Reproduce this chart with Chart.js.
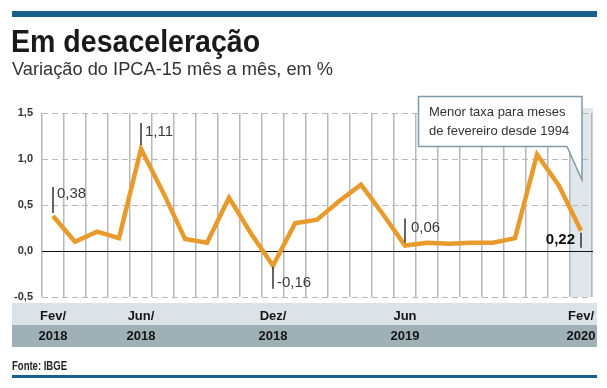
<!DOCTYPE html>
<html lang="pt-BR">
<head>
<meta charset="utf-8">
<title>Em desaceleração</title>
<script src="https://cdn.jsdelivr.net/npm/chart.js@4.4.1/dist/chart.umd.min.js"></script>
<style>
  html, body { margin: 0; padding: 0; background: #fff; }
  #wrap { position: relative; width: 607px; height: 388px; overflow: hidden; }
  #chart { position: absolute; left: 0; top: 0; }
  .rule { position: absolute; left: 12px; width: 585px; background: #17608a; }
  .fit { transform-origin: 0 0; display: inline-block; }
  #title {
    position: absolute; left: 11px; top: 25px; margin: 0;
    font: bold 32px/32px "Liberation Sans", Arial, sans-serif;
    color: #1a1a1a; white-space: nowrap;
  }
  #subtitle {
    position: absolute; left: 12px; top: 59px; margin: 0;
    font: 19px/19px "Liberation Sans", Arial, sans-serif;
    color: #333; white-space: nowrap;
  }
  #source {
    position: absolute; left: 12px; top: 360px; margin: 0;
    font: bold 12px/12px "Liberation Sans", Arial, sans-serif;
    color: #222; white-space: nowrap;
  }
</style>
</head>
<body>
<div id="wrap">
  <canvas id="chart" width="607" height="388"></canvas>
  <div class="rule" style="top:11px;height:6px"></div>
  <h1 id="title" class="fit" data-w="249">Em desaceleração</h1>
  <p id="subtitle" class="fit" data-w="321">Variação do IPCA-15 mês a mês, em %</p>
  <p id="source" class="fit" data-w="55">Fonte: IBGE</p>
  <div class="rule" style="top:375px;height:3px"></div>
</div>
<script>
/* ========== DATA ========== */
const months = [
  "Fev/2018", "Mar/2018", "Abr/2018", "Mai/2018", "Jun/2018", "Jul/2018",
  "Ago/2018", "Set/2018", "Out/2018", "Nov/2018", "Dez/2018", "Jan/2019",
  "Fev/2019", "Mar/2019", "Abr/2019", "Mai/2019", "Jun/2019", "Jul/2019",
  "Ago/2019", "Set/2019", "Out/2019", "Nov/2019", "Dez/2019", "Jan/2020",
  "Fev/2020",
];
const ipca15 = [
  0.38, 0.10, 0.21, 0.14, 1.11, 0.64, 0.13, 0.09, 0.58, 0.19, -0.16, 0.30,
  0.34, 0.54, 0.72, 0.40, 0.06, 0.09, 0.08, 0.09, 0.09, 0.14, 1.05, 0.71,
  0.22,
];
// which months get an axis label, and what it says
const axisMarks = [0, 4, 10, 16, 24];
const axisLabels = [["Fev/", "2018"], ["Jun/", "2018"], ["Dez/", "2018"], ["Jun", "2019"], ["Fev/", "2020"]];
const yTicks = [-0.5, 0, 0.5, 1.0, 1.5];
const calloutText = ["Menor taxa para meses", "de fevereiro desde 1994"];

/* ========== STYLE ========== */
const SANS = '"Liberation Sans", Arial, sans-serif';
const ORANGE = "#e99a2c";

// value labels with a small marker line (offsets relative to the point)
const notes = [
  { i: 0,  y0: -3, y1: -29, side: "right", dx: 4, ly: -22 },
  { i: 4,  y0: -4, y1: -26, side: "right", dx: 4, ly: -17 },
  { i: 10, y0: 1,  y1: 23,  side: "right", dx: 4, ly: 17 },
  { i: 16, y0: -3, y1: -27, side: "right", dx: 6, ly: -18 },
  { i: 24, y0: 2,  y1: 17,  side: "left",  dx: 6, ly: 9, bold: true },
];

const fmt = (v) => v.toFixed(2).replace(".", ",");

/* ========== HEADER TEXT WIDTHS ========== */
// the original uses condensed faces; squeeze the available ones to the same width
document.querySelectorAll(".fit").forEach((el) => {
  const w = el.getBoundingClientRect().width;
  const target = parseFloat(el.dataset.w);
  if (w > 0) el.style.transform = "scaleX(" + (target / w).toFixed(3) + ")";
});

/* ========== DECOR PLUGIN ========== */
const decor = {
  id: "decor",
  beforeDraw(chart) {
    const { ctx, chartArea: a, scales: { x } } = chart;
    const half = (x.getPixelForValue(1) - x.getPixelForValue(0)) / 2;
    const lx = x.getPixelForValue(months.length - 1);
    ctx.save();
    // last month highlight
    ctx.fillStyle = "#dfe7ec";
    ctx.fillRect(lx - half, a.top - 5, half * 2 + 1, a.bottom - a.top + 5);
    // axis bands
    ctx.fillStyle = "#dbe3e9";
    ctx.fillRect(12, 303, 585, 22);
    ctx.fillStyle = "#9fb0b7";
    ctx.fillRect(12, 325, 585, 22);
    ctx.restore();
  },
  beforeDatasetsDraw(chart) {
    const { ctx, chartArea: a, scales: { y } } = chart;
    const y0 = Math.round(y.getPixelForValue(0)) + 0.5;
    ctx.save();
    ctx.strokeStyle = "#111";
    ctx.lineWidth = 1;
    ctx.beginPath();
    ctx.moveTo(a.left, y0);
    ctx.lineTo(a.right + 1, y0);
    ctx.stroke();
    ctx.restore();
  },
  afterDatasetsDraw(chart) {
    const { ctx, scales: { x, y } } = chart;
    ctx.save();
    notes.forEach((n) => {
      const px = x.getPixelForValue(n.i);
      const py = y.getPixelForValue(ipca15[n.i]);
      ctx.strokeStyle = "#333";
      ctx.lineWidth = 1.5;
      ctx.beginPath();
      ctx.moveTo(px, py + n.y0);
      ctx.lineTo(px, py + n.y1);
      ctx.stroke();
      ctx.fillStyle = n.bold ? "#111" : "#3a3a3a";
      ctx.font = (n.bold ? "bold " : "") + "15px " + SANS;
      ctx.textBaseline = "middle";
      ctx.textAlign = n.side === "right" ? "left" : "right";
      const tx = n.side === "right" ? px + n.dx : px - n.dx;
      ctx.fillText(fmt(ipca15[n.i]), tx, py + n.ly);
    });
    ctx.restore();
  },
  afterDraw(chart) {
    const { ctx, scales: { x } } = chart;
    const tipX = x.getPixelForValue(months.length - 1) + 1;
    ctx.save();
    ctx.beginPath();
    ctx.moveTo(418.5, 96.5);
    ctx.lineTo(tipX, 96.5);
    ctx.lineTo(tipX, 180);
    ctx.lineTo(tipX - 15, 146.5);
    ctx.lineTo(418.5, 146.5);
    ctx.closePath();
    ctx.fillStyle = "#fff";
    ctx.fill();
    ctx.strokeStyle = "#7f9ba7";
    ctx.lineWidth = 1.5;
    ctx.stroke();
    ctx.fillStyle = "#333";
    ctx.font = "13px " + SANS;
    ctx.textBaseline = "middle";
    ctx.textAlign = "left";
    ctx.fillText(calloutText[0], 429, 112);
    ctx.fillText(calloutText[1], 429, 131.5);
    ctx.restore();
  },
};

/* ========== CHART ========== */
new Chart(document.getElementById("chart"), {
  type: "line",
  data: {
    labels: months,
    datasets: [
      {
        data: ipca15,
        borderColor: ORANGE,
        borderWidth: 4.5,
        pointRadius: 0,
        tension: 0,
        fill: false,
        clip: false,
      },
    ],
  },
  options: {
    responsive: false,
    animation: false,
    devicePixelRatio: 1,
    layout: { padding: { left: 0, right: 15, top: 113, bottom: 0 } },
    plugins: { legend: { display: false }, tooltip: { enabled: false }, title: { display: false } },
    scales: {
      x: {
        offset: true,
        grid: { offset: true, color: "#b8b8b8", lineWidth: 1.5, drawTicks: false },
        border: { display: false },
        afterFit: (s) => { s.height = 91; },
        ticks: {
          autoSkip: false,
          maxRotation: 0,
          minRotation: 0,
          padding: 9,
          color: "#151515",
          font: { family: SANS, size: 13, weight: "bold", lineHeight: "20px" },
          callback: (v, i) => {
            const k = axisMarks.indexOf(i);
            return k < 0 ? "" : axisLabels[k];
          },
        },
      },
      y: {
        min: yTicks[0],
        max: yTicks[yTicks.length - 1],
        afterBuildTicks: (s) => { s.ticks = yTicks.map((v) => ({ value: v })); },
        grid: { color: "#b8b8b8", lineWidth: 1, drawTicks: false },
        border: { display: false, dash: [6, 4] },
        afterFit: (s) => { s.width = 42; },
        ticks: {
          padding: 9,
          color: "#333",
          font: { family: SANS, size: 11, weight: "bold" },
          callback: (v) => v.toFixed(1).replace(".", ","),
        },
      },
    },
  },
  plugins: [decor],
});
</script>
</body>
</html>
